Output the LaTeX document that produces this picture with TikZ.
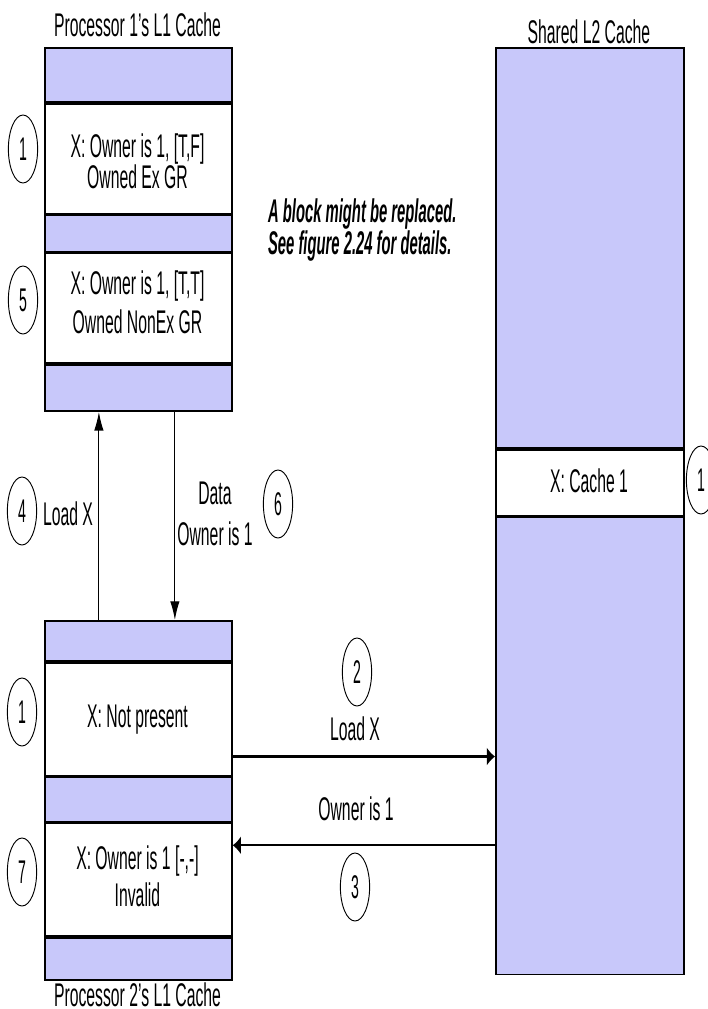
\documentclass[tikz,border=0pt]{standalone}
\usepackage{fontspec}
\setmainfont{Liberation Sans}
\usetikzlibrary{arrows.meta, positioning, calc}
\definecolor{slotblue}{RGB}{200,200,250}

\tikzset{
  slot/.style={draw, line width=1.5pt, minimum width=5.61cm, inner sep=0pt},
  used/.style={slot, fill=slotblue},
  free/.style={slot, fill=white},
  txt/.style={font=\fontsize{28}{27}\selectfont, xscale=0.48, align=center, inner sep=0pt},
  num/.style={draw, circle, line width=0.8pt, minimum size=2.04cm, inner sep=0pt,
    font=\fontsize{28}{28}\selectfont, xscale=0.43},
  vmsg/.style={line width=1pt, -{Latex[length=16pt,width=8pt]}},
  hmsg/.style={line width=2pt, -{Latex[length=7pt,width=16pt]}}
}

\begin{document}
\begin{tikzpicture}[x=0.03cm, y=-0.03cm, node distance=0pt]
\useasboundingbox (0,0) rectangle (708,1009);

% Processor 1's L1 cache
\node[used, anchor=north west, minimum height=1.62cm] (p1a) at (44,47) {};
\node[free, below=of p1a, minimum height=3.30cm] (p1b) {};
\node[used, below=of p1b, minimum height=1.08cm] (p1c) {};
\node[free, below=of p1c, minimum height=3.30cm] (p1d) {};
\node[used, below=of p1d, minimum height=1.38cm] (p1e) {};
\node[txt, anchor=base] (p1name) at (137.5,37) {Processor 1's L1 Cache};
\node[txt, anchor=north] (p1bt) at (137.5,133) {X: Owner is 1, [T,F]\\Owned Ex GR};
\node[txt, anchor=north, font=\fontsize{28}{34}\selectfont] (p1dt) at (137.5,270) {X: Owner is 1, [T,T]\\Owned NonEx GR};
\node[num] (s1a) at (23,149) {1};
\node[num] (s5) at (23,300) {5};

% Processor 2's L1 cache
\node[used, anchor=north west, minimum height=1.20cm] (p2a) at (44,620) {};
\node[free, below=of p2a, minimum height=3.39cm] (p2b) {};
\node[used, below=of p2b, minimum height=1.32cm] (p2c) {};
\node[free, below=of p2c, minimum height=3.39cm] (p2d) {};
\node[used, below=of p2d, minimum height=1.26cm] (p2e) {};
\node[txt, anchor=base] (p2name) at (137.5,1006) {Processor 2's L1 Cache};
\node[txt, anchor=base] (p2bt) at (137.5,727) {X: Not present};
\node[txt, anchor=north, font=\fontsize{28}{32}\selectfont] (p2dt) at (137.5,845) {X: Owner is 1 [-,-]\\Invalid};
\node[num] (s1b) at (22,712) {1};
\node[num] (s7) at (22,872) {7};

% Shared L2 cache
\node[used, anchor=north west, minimum width=5.64cm, minimum height=12cm] (l2a) at (495,47) {};
\node[free, below=of l2a, minimum width=5.64cm, minimum height=1.98cm] (l2b) {};
\node[used, below=of l2b, minimum width=5.64cm, minimum height=13.71cm] (l2c) {};
\node[txt, anchor=base] (l2name) at (589,44) {Shared L2 Cache};
\node[txt, anchor=base] (l2bt) at (589,492) {X: Cache 1};
\node[num] (s1c) at (701,480) {1};

% note
\node[txt, xscale=0.94, align=left, anchor=north west, font=\fontsize{28}{28}\selectfont\bfseries\itshape]
  (note) at (268,198) {A block might be replaced.\\See figure 2.24 for details.};

% messages between the L1 caches
\draw[vmsg] ($(p2a.north)+(-39.5,0)$) -- ($(p1e.south)+(-39.5,0)$);
\draw[vmsg] ($(p1e.south)+(36.5,0)$) -- ($(p2a.north)+(36.5,0)$);
\node[num] (s4) at (22,511) {4};
\node[txt, anchor=base] (ld1) at (68,525) {Load X};
\node[txt, anchor=north, font=\fontsize{28}{35}\selectfont] (dat) at (215,482) {Data\\Owner is 1};
\node[num] (s6) at (278,504) {6};

% messages to and from the L2 cache
\coordinate (ldx) at ($(p2b.south east)+(0,-20)$);
\draw[hmsg] (ldx) -- (ldx -| l2c.west);
\coordinate (own) at ($(p2d.north east)+(0,23)$);
\draw[hmsg] (own -| l2c.west) -- (own);
\node[num] (s2) at (357,672) {2};
\node[txt, anchor=base] (ld2) at (355,740) {Load X};
\node[txt, anchor=base] (own1) at (356,820) {Owner is 1};
\node[num] (s3) at (355,887) {3};
\end{tikzpicture}
\end{document}
